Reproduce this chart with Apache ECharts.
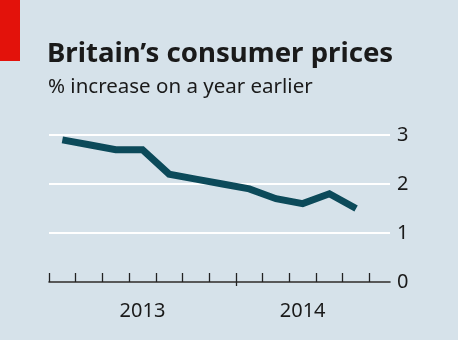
<!DOCTYPE html>
<html>
<head>
<meta charset="utf-8">
<script src="https://cdn.jsdelivr.net/npm/echarts@6/dist/echarts.min.js"></script>
<style>
  html, body { margin: 0; padding: 0; background: #d6e2ea; }
  #chart { width: 458px; height: 340px; }
</style>
</head>
<body>
<div id="chart"></div>
<script>
// UK CPI inflation, monthly, June 2013 to May 2014
const months = ['Jun 2013', 'Jul 2013', 'Aug 2013', 'Sep 2013', 'Oct 2013', 'Nov 2013',
                'Dec 2013', 'Jan 2014', 'Feb 2014', 'Mar 2014', 'Apr 2014', 'May 2014'];
const cpi = [2.9, 2.8, 2.7, 2.7, 2.2, 2.1, 2.0, 1.9, 1.7, 1.6, 1.8, 1.5];
const yearLabels = ['2013', '2014'];
const yearCentres = [3.5, 9.5];      // mid-point of each year's span, in months
const monthBounds = [0, 1, 2, 3, 4, 5, 6, 7, 8, 9, 10, 11, 12];
const yearBreak = [7];               // start of January 2014
const yTicks = [0, 1, 2, 3];

const font = '"Noto Sans", "DejaVu Sans", sans-serif';
const ink = '#1a1a1a';

// each month is plotted at the middle of its slot
const points = cpi.map((v, i) => [i + 0.5, v]);

const chart = echarts.init(document.getElementById('chart'), null, { renderer: 'canvas' });
chart.setOption({
  backgroundColor: '#d6e2ea',
  animation: false,
  title: [
    { text: 'Britain\u2019s consumer prices', left: 42, top: 35,
      textStyle: { fontFamily: font, fontWeight: 'bold', fontSize: 27.6, color: ink } },
    { text: '% increase on a year earlier', left: 43, top: 72,
      textStyle: { fontFamily: font, fontWeight: 'normal', fontSize: 20.5, color: ink } }
  ],
  graphic: [
    { type: 'rect', shape: { x: 0, y: 0, width: 20, height: 61 }, style: { fill: '#e3120b' } }
  ],
  grid: { left: 49, right: 68, top: 135, bottom: 58 },
  xAxis: [
    {
      type: 'value', min: 0, max: 12.77,
      axisLine: { show: true, lineStyle: { color: '#222', width: 1.5 } },
      axisTick: { show: true, inside: true, length: 9, customValues: monthBounds,
                  lineStyle: { color: '#222', width: 1.3 } },
      axisLabel: { show: true, customValues: yearCentres, margin: 19,
                   fontFamily: font, fontSize: 20, color: ink,
                   formatter: v => yearLabels[yearCentres.indexOf(v)] },
      splitLine: { show: false }
    },
    {
      type: 'value', min: 0, max: 12.77, position: 'bottom',
      axisLine: { show: false },
      axisTick: { show: true, inside: false, length: 4, customValues: yearBreak,
                  lineStyle: { color: '#222', width: 1.3 } },
      axisLabel: { show: false },
      splitLine: { show: false }
    }
  ],
  yAxis: {
    type: 'value', position: 'right', min: 0, max: 3, interval: 1,
    axisLine: { show: false }, axisTick: { show: false },
    axisLabel: { margin: 7, fontFamily: font, fontSize: 20, color: ink,
                 customValues: yTicks },
    splitLine: { show: true, lineStyle: { color: '#ffffff', width: 2 } }
  },
  series: [{
    type: 'line', data: points, xAxisIndex: 0,
    showSymbol: false, symbol: 'none',
    lineStyle: { color: '#0c4a5a', width: 7, cap: 'butt', join: 'miter' },
    z: 5
  }]
});
</script>
</body>
</html>
